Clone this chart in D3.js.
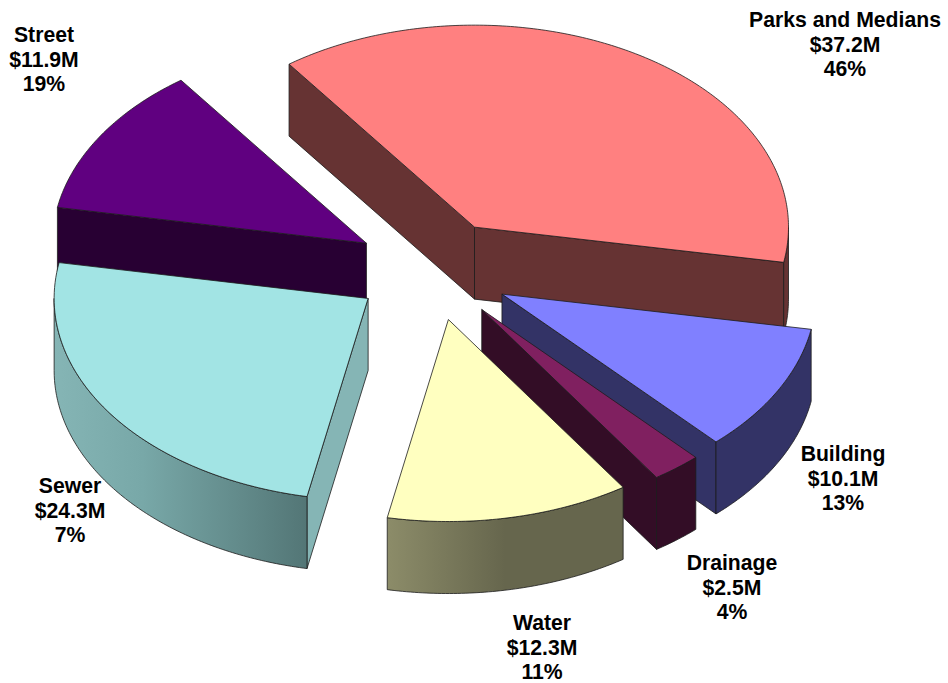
<!DOCTYPE html>
<html>
<head>
<meta charset="utf-8">
<script src="https://cdn.jsdelivr.net/npm/d3@7"></script>
<style>
html,body{margin:0;padding:0;background:#fff;}
svg{display:block;}
text{font-family:"Liberation Sans",Arial,sans-serif;font-weight:bold;fill:#000;}
</style>
</head>
<body>
<svg id="chart" width="948" height="683"></svg>
<script>
// ---- data ----
const categories = ["Parks and Medians","Building","Drainage","Water","Sewer","Street"];
const amounts    = [37.2, 10.1, 2.5, 12.3, 24.3, 11.9];
const percents   = [46, 13, 4, 11, 7, 19];

// ---- styles ----
const topColors  = ["#ff8080","#8080ff","#802060","#ffffc0","#a2e4e4","#600080"];
const wallColors = ["#663333","#333366","#330d26","#66664d","#85b5b5","#280033"];
const rimStops   = [null,null,null,
  [[0,"#8c8c69"],[0.5,"#66664d"],[1,"#66664d"]],
  [[0,"#85b5b5"],[0.35,"#78a8a8"],[1,"#537676"]],
  null];

// ---- layout ----
const width = 948, height = 683;
const cx = 433, cy = 270, rx = 314, ry = 202, depth = 72, explode = 0.25;
const firstAngle = -36.2 * Math.PI / 180;
const labelCenters = [845, 843, 732, 542, 70, 44];
const labelBaselines = [27, 461, 570, 630, 493, 42];
const lineGap = 24.5, fontSize = 21.2;
const drawOrder = [0, 5, 1, 2, 3, 4];

const svg = d3.select("#chart");
const defs = svg.append("defs");

const pie = d3.pie().sort(null).startAngle(firstAngle).endAngle(firstAngle + 2 * Math.PI);
const arcs = pie(amounts);

const px = d3.scaleLinear().domain([-1, 1]).range([cx - rx, cx + rx]);
const py = d3.scaleLinear().domain([-1, 1]).range([cy - ry, cy + ry]);
const line = d3.line();

function rimPoints(a0, a1, ox, oy, dz) {
  const n = Math.max(2, Math.ceil((a1 - a0) * 80));
  return d3.range(n + 1).map(i => {
    const a = a0 + (a1 - a0) * i / n;
    return [px(Math.sin(a)) + ox, py(-Math.cos(a)) + oy + dz];
  });
}

const g = svg.append("g");
const strokeStyle = sel => sel.attr("stroke", "#1c1c1c").attr("stroke-width", 0.8).attr("stroke-linejoin", "round");

drawOrder.forEach(i => {
  const d = arcs[i];
  const mid = (d.startAngle + d.endAngle) / 2;
  const ox = px(explode * Math.sin(mid)) - cx;
  const oy = py(-explode * Math.cos(mid)) - cy;
  const apex = [cx + ox, cy + oy];
  const apexLow = [apex[0], apex[1] + depth];
  const rim = rimPoints(d.startAngle, d.endAngle, ox, oy, 0);
  const s = rim[0], e = rim[rim.length - 1];
  const slice = g.append("g").attr("class", "slice");

  // radial walls, only the ones that face the viewer
  if (s[0] < apex[0]) {
    slice.append("path")
      .attr("d", line([apex, s, [s[0], s[1] + depth], apexLow]) + "Z")
      .attr("fill", wallColors[i]).call(strokeStyle);
  }
  if (e[0] > apex[0]) {
    slice.append("path")
      .attr("d", line([apex, e, [e[0], e[1] + depth], apexLow]) + "Z")
      .attr("fill", wallColors[i]).call(strokeStyle);
  }

  // outer rim wall, front half only
  const a0 = Math.max(d.startAngle, Math.PI / 2);
  const a1 = Math.min(d.endAngle, 1.5 * Math.PI);
  if (a1 > a0) {
    const up = rimPoints(a0, a1, ox, oy, 0);
    const low = rimPoints(a0, a1, ox, oy, depth).reverse();
    let fill = wallColors[i];
    if (rimStops[i]) {
      const id = "rim" + i;
      const xs = up.map(p => p[0]);
      const grad = defs.append("linearGradient").attr("id", id)
        .attr("gradientUnits", "userSpaceOnUse")
        .attr("x1", d3.min(xs)).attr("x2", d3.max(xs)).attr("y1", 0).attr("y2", 0);
      rimStops[i].forEach(st => grad.append("stop").attr("offset", st[0]).attr("stop-color", st[1]));
      fill = `url(#${id})`;
    }
    slice.append("path").attr("d", line(up.concat(low)) + "Z").attr("fill", fill).call(strokeStyle);
  }

  // top face
  slice.append("path")
    .attr("d", line([apex].concat(rim)) + "Z")
    .attr("fill", topColors[i]).call(strokeStyle);
});

// ---- labels ----
const labels = svg.append("g");
categories.forEach((c, i) => {
  const lines = [c, `$${amounts[i].toFixed(1)}M`, `${percents[i]}%`];
  const t = labels.append("text").attr("text-anchor", "middle").attr("font-size", fontSize);
  lines.forEach((txt, k) => {
    t.append("tspan").attr("x", labelCenters[i]).attr("y", labelBaselines[i] + k * lineGap).text(txt);
  });
});
</script>
</body>
</html>
